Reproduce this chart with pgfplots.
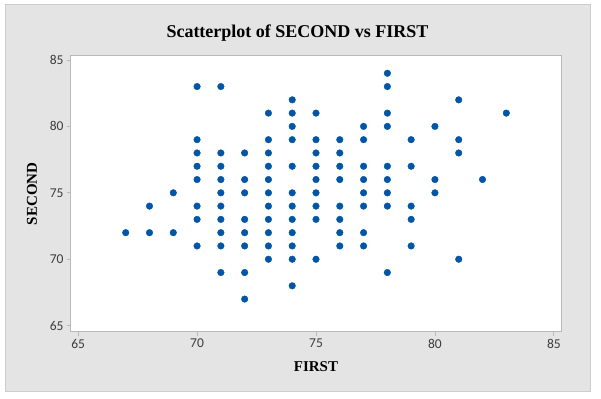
\documentclass[border=0pt]{standalone}
\usepackage{fontspec}
\setmainfont{Liberation Serif}
\newfontfamily\tickfont{Carlito}
\usepackage{pgfplots}
\pgfplotsset{compat=1.18}
\definecolor{panel}{RGB}{228,228,228}
\definecolor{panelline}{RGB}{205,205,205}
\definecolor{framec}{RGB}{185,185,185}
\definecolor{dot}{RGB}{0,85,166}
\definecolor{ticktext}{RGB}{60,60,60}
\begin{document}
\begin{tikzpicture}[x=1pt,y=1pt]
\path[use as bounding box] (-71,-66.5) rectangle (530,331.5);
\draw[fill=panel,draw=panelline,line width=1pt] (-65,-59.5) rectangle (519,326.5);
\node[font=\bfseries\fontsize{18}{18}\selectfont] at (226.5,298.5) {Scatterplot of SECOND vs FIRST};
\begin{axis}[at={(0,0)},anchor=south west, scale only axis,
  width=490pt, height=275.5pt,
  xmin=64.7, xmax=85.3, ymin=64.56, ymax=85.3,
  xtick={65,70,75,80,85}, ytick={65,70,75,80,85},
  axis background/.style={fill=white},
  axis line style={framec, line width=1pt},
  tick style={framec, line width=0.8pt},
  tick align=outside, major tick length=4pt,
  xtick pos=bottom, ytick pos=left,
  /pgf/number format/assume math mode=true,
  ticklabel style={font=\tickfont\fontsize{13.5}{13.5}\selectfont, text=ticktext},
  xlabel={FIRST}, ylabel={SECOND},
  label style={font=\bfseries\fontsize{15}{15}\selectfont},
  xlabel style={at={(axis description cs:0.5,0)}, anchor=center, yshift=-35.5pt},
  ylabel style={at={(axis description cs:0,0.5)}, anchor=center, yshift=39pt},
]
\addplot[only marks, mark=*, mark size=3.3pt, color=dot, mark options={fill=dot, draw=dot}] table {
x y
67 72
68 74
68 72
69 75
69 72
70 83
70 79
70 78
70 77
70 76
70 74
70 73
70 71
71 83
71 78
71 77
71 76
71 75
71 74
71 73
71 72
71 71
71 69
72 78
72 76
72 75
72 73
72 72
72 71
72 69
72 67
73 81
73 79
73 78
73 77
73 76
73 75
73 74
73 73
73 72
73 71
73 70
74 82
74 81
74 80
74 79
74 77
74 75
74 74
74 73
74 72
74 71
74 70
74 68
75 81
75 79
75 78
75 77
75 76
75 75
75 74
75 73
75 70
76 79
76 78
76 77
76 76
76 74
76 73
76 72
76 71
77 80
77 79
77 77
77 76
77 75
77 74
77 72
77 71
78 84
78 83
78 81
78 80
78 77
78 76
78 75
78 74
78 69
79 79
79 77
79 74
79 73
79 71
80 80
80 76
80 75
81 82
81 79
81 78
81 70
82 76
83 81
};
\end{axis}
\end{tikzpicture}
\end{document}
